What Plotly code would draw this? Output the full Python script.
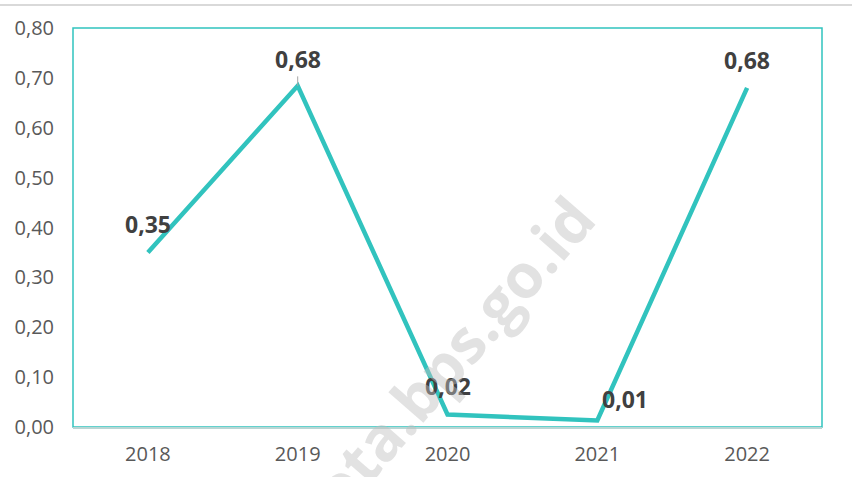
import plotly.graph_objects as go

# data
years = ["2018", "2019", "2020", "2021", "2022"]
values = [0.35, 0.684, 0.025, 0.013, 0.68]
labels = ["0,35", "0,68", "0,02", "0,01", "0,68"]
y_ticks = [0.0, 0.1, 0.2, 0.3, 0.4, 0.5, 0.6, 0.7, 0.8]

TEAL = "#31C3BE"
W, H = 852, 477
M = dict(l=73, r=30, t=28, b=50)
plot_w = W - M["l"] - M["r"]
plot_h = H - M["t"] - M["b"]

fig = go.Figure()

fig.add_trace(go.Scatter(
    x=years, y=values, mode="lines",
    line=dict(color=TEAL, width=4.5),
    hoverinfo="skip", showlegend=False,
))

# --- data labels (x als categorie-index) ---
shifts = [(0, 28), (0, 27), (0, 29), (28, 22), (0, 28)]
label_font = dict(size=23, color="#404040", family="Open Sans")
for i, (v, lab) in enumerate(zip(values, labels)):
    dx, dy = shifts[i]
    if i == 1:
        fig.add_annotation(
            x=i, y=v, text=f"<b>{lab}</b>", showarrow=True,
            arrowhead=0, arrowwidth=1, arrowcolor="#a6a6a6",
            ax=0, ay=-dy, standoff=0, font=label_font,
        )
    else:
        fig.add_annotation(
            x=i, y=v, text=f"<b>{lab}</b>", showarrow=False,
            xshift=dx, yshift=dy, font=label_font,
        )

# --- watermark ---
fig.add_annotation(
    x=0.5, y=0.5, xref="paper", yref="paper",
    xshift=440 - (M["l"] + plot_w / 2),
    yshift=-(367 - (M["t"] + plot_h / 2)),
    text="<b>kota.bps.go.id</b>", showarrow=False, textangle=-49,
    font=dict(size=61, color="rgba(190,190,190,0.45)", family="Open Sans"),
)

# rand om plotgebied
fig.add_shape(type="rect", xref="paper", yref="paper",
              x0=0, x1=1, y0=0, y1=1, layer="below",
              line=dict(color=TEAL, width=1.5))

# grijze lijn bovenaan
y_top = 1 + (M["t"] - 5) / plot_h
fig.add_shape(type="line", xref="paper", yref="paper",
              x0=-M["l"] / plot_w, x1=1 + M["r"] / plot_w,
              y0=y_top, y1=y_top, line=dict(color="#d9d9d9", width=2))

fig.update_layout(
    width=W, height=H,
    margin=dict(M, autoexpand=False),
    paper_bgcolor="white", plot_bgcolor="white",
    separators=",.",
    font=dict(family="Open Sans", color="#595959", size=20),
    xaxis=dict(
        type="category",
        range=[-0.5, 4.5], showgrid=False, zeroline=False,
        showline=True, linecolor="#b9d6d4", linewidth=1.5,
        ticks="", ticklabelstandoff=8,
        tickfont=dict(size=20, color="#595959"),
    ),
    yaxis=dict(
        range=[0, 0.8], tickvals=y_ticks, tickformat=".2f",
        showgrid=False, zeroline=False, showline=False,
        ticks="", ticklabelstandoff=18,
        tickfont=dict(size=20, color="#595959"),
    ),
)

fig.write_html("out.html", config={"displayModeBar": False},
               post_script="document.body.style.margin='0';")
